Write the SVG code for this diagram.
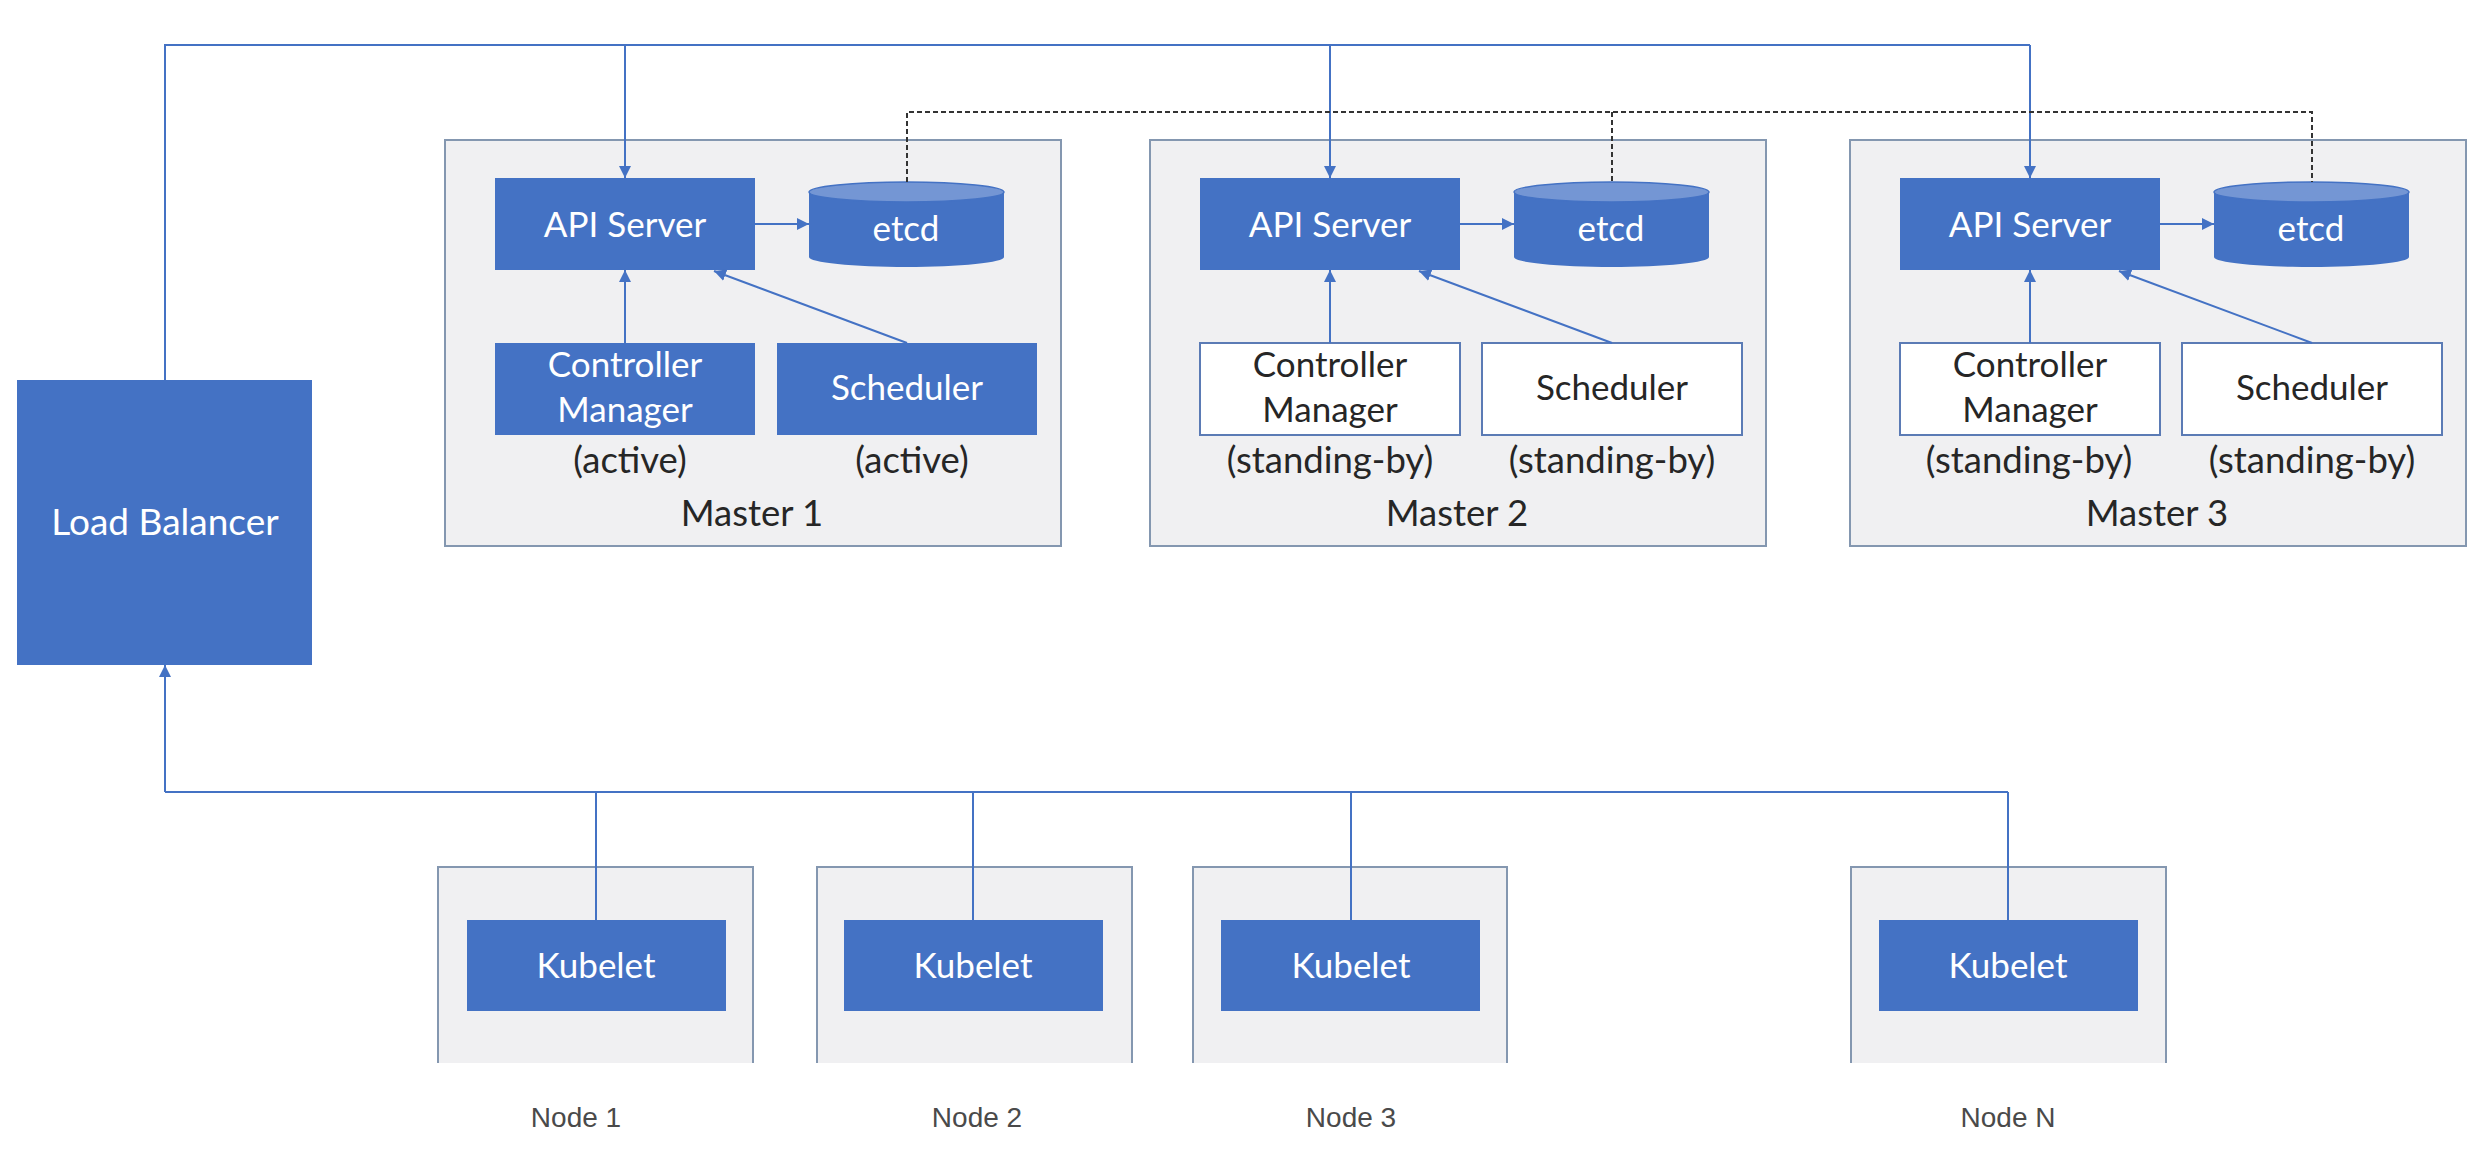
<svg xmlns="http://www.w3.org/2000/svg" width="2484" height="1164" viewBox="0 0 2484 1164">
<defs>
<marker id="arr" viewBox="0 0 10 10" refX="10" refY="5" markerWidth="6" markerHeight="6" markerUnits="strokeWidth" orient="auto">
<path d="M0,0 L10,5 L0,10 z" fill="#4472C4"/>
</marker>
<style>
.blue{fill:#4472C4;}
.master{fill:#F0F0F2;stroke:#8497B0;stroke-width:2;}
.wbox{fill:#FFFFFF;stroke:#5B7BB5;stroke-width:2;}
.conn{fill:none;stroke:#4472C4;stroke-width:2;}
.dash{fill:none;stroke:#333333;stroke-width:2;stroke-dasharray:5 3;}
.wt{font-family:Lato,"Open Sans",sans-serif;font-size:35px;fill:#FFFFFF;text-anchor:middle;}
.dt{font-family:Lato,"Open Sans",sans-serif;font-size:35px;fill:#262626;text-anchor:middle;}
.lt{font-family:Lato,"Open Sans",sans-serif;font-size:36.5px;fill:#262626;text-anchor:middle;}
.nt{font-family:"Liberation Sans",Arial,sans-serif;font-size:28px;fill:#4a4a4a;text-anchor:middle;}
.nodebox{fill:#F0F0F2;}
.nodeedge{fill:none;stroke:#8497B0;stroke-width:2;}
</style>
</defs>
<rect width="2484" height="1164" fill="#FFFFFF"/>

<g id="load-balancer">
<rect class="blue" x="17" y="380" width="295" height="285"/>
<text class="wt" x="165" y="535" style="font-size:37px">Load Balancer</text>
</g>

<g id="master1">
<rect class="master" x="445" y="140" width="616" height="406"/>
<g id="m1-api"><rect class="blue" x="495" y="178" width="260" height="92"/><text class="wt" x="625" y="237">API Server</text></g>
<g id="m1-etcd"><path class="blue" d="M809,192 L809,257 A97.5,10 0 0 0 1004,257 L1004,192 z"/><ellipse cx="906.5" cy="192" rx="97.5" ry="10" fill="#7496D4" stroke="#4472C4" stroke-width="1.5"/><text class="wt" x="906" y="241">etcd</text></g>
<g id="m1-cm"><rect class="blue" x="495" y="343" width="260" height="92"/><text class="wt" x="625" y="377">Controller</text><text class="wt" x="625" y="422">Manager</text></g>
<g id="m1-sched"><rect class="blue" x="777" y="343" width="260" height="92"/><text class="wt" x="907" y="400">Scheduler</text></g>
<text class="lt" x="630" y="473">(active)</text>
<text class="lt" x="912" y="473">(active)</text>
<text class="lt" x="752" y="526">Master 1</text>
</g>

<g id="master2">
<rect class="master" x="1150" y="140" width="616" height="406"/>
<g id="m2-api"><rect class="blue" x="1200" y="178" width="260" height="92"/><text class="wt" x="1330" y="237">API Server</text></g>
<g id="m2-etcd"><path class="blue" d="M1514,192 L1514,257 A97.5,10 0 0 0 1709,257 L1709,192 z"/><ellipse cx="1611.5" cy="192" rx="97.5" ry="10" fill="#7496D4" stroke="#4472C4" stroke-width="1.5"/><text class="wt" x="1611" y="241">etcd</text></g>
<g id="m2-cm"><rect class="wbox" x="1200" y="343" width="260" height="92"/><text class="dt" x="1330" y="377">Controller</text><text class="dt" x="1330" y="422">Manager</text></g>
<g id="m2-sched"><rect class="wbox" x="1482" y="343" width="260" height="92"/><text class="dt" x="1612" y="400">Scheduler</text></g>
<text class="lt" x="1330" y="473">(standing-by)</text>
<text class="lt" x="1612" y="473">(standing-by)</text>
<text class="lt" x="1457" y="526">Master 2</text>
</g>

<g id="master3">
<rect class="master" x="1850" y="140" width="616" height="406"/>
<g id="m3-api"><rect class="blue" x="1900" y="178" width="260" height="92"/><text class="wt" x="2030" y="237">API Server</text></g>
<g id="m3-etcd"><path class="blue" d="M2214,192 L2214,257 A97.5,10 0 0 0 2409,257 L2409,192 z"/><ellipse cx="2311.5" cy="192" rx="97.5" ry="10" fill="#7496D4" stroke="#4472C4" stroke-width="1.5"/><text class="wt" x="2311" y="241">etcd</text></g>
<g id="m3-cm"><rect class="wbox" x="1900" y="343" width="260" height="92"/><text class="dt" x="2030" y="377">Controller</text><text class="dt" x="2030" y="422">Manager</text></g>
<g id="m3-sched"><rect class="wbox" x="2182" y="343" width="260" height="92"/><text class="dt" x="2312" y="400">Scheduler</text></g>
<text class="lt" x="2029" y="473">(standing-by)</text>
<text class="lt" x="2312" y="473">(standing-by)</text>
<text class="lt" x="2157" y="526">Master 3</text>
</g>

<g id="node1">
<rect class="nodebox" x="438" y="867" width="315" height="196"/>
<path class="nodeedge" d="M438,1063 L438,867 L753,867 L753,1063"/>
<rect class="blue" x="467" y="920" width="259" height="91"/>
<text class="wt" x="596" y="978">Kubelet</text>
<text class="nt" x="576" y="1127">Node 1</text>
</g>
<g id="node2">
<rect class="nodebox" x="817" y="867" width="315" height="196"/>
<path class="nodeedge" d="M817,1063 L817,867 L1132,867 L1132,1063"/>
<rect class="blue" x="844" y="920" width="259" height="91"/>
<text class="wt" x="973" y="978">Kubelet</text>
<text class="nt" x="977" y="1127">Node 2</text>
</g>
<g id="node3">
<rect class="nodebox" x="1193" y="867" width="314" height="196"/>
<path class="nodeedge" d="M1193,1063 L1193,867 L1507,867 L1507,1063"/>
<rect class="blue" x="1221" y="920" width="259" height="91"/>
<text class="wt" x="1351" y="978">Kubelet</text>
<text class="nt" x="1351" y="1127">Node 3</text>
</g>
<g id="nodeN">
<rect class="nodebox" x="1851" y="867" width="315" height="196"/>
<path class="nodeedge" d="M1851,1063 L1851,867 L2166,867 L2166,1063"/>
<rect class="blue" x="1879" y="920" width="259" height="91"/>
<text class="wt" x="2008" y="978">Kubelet</text>
<text class="nt" x="2008" y="1127">Node N</text>
</g>

<g id="connectors">
<path class="conn" d="M165,380 L165,45 L2030,45"/>
<path class="conn" d="M625,45 L625,178" marker-end="url(#arr)"/>
<path class="conn" d="M1330,45 L1330,178" marker-end="url(#arr)"/>
<path class="conn" d="M2030,45 L2030,178" marker-end="url(#arr)"/>
<path class="conn" d="M755,224 L809,224" marker-end="url(#arr)"/>
<path class="conn" d="M1460,224 L1514,224" marker-end="url(#arr)"/>
<path class="conn" d="M2160,224 L2214,224" marker-end="url(#arr)"/>
<path class="conn" d="M625,343 L625,270" marker-end="url(#arr)"/>
<path class="conn" d="M1330,343 L1330,270" marker-end="url(#arr)"/>
<path class="conn" d="M2030,343 L2030,270" marker-end="url(#arr)"/>
<path class="conn" d="M907,343 L714,271" marker-end="url(#arr)"/>
<path class="conn" d="M1612,343 L1419,271" marker-end="url(#arr)"/>
<path class="conn" d="M2312,343 L2119,271" marker-end="url(#arr)"/>
<path class="dash" d="M907,182 L907,112 L2312,112 L2312,182"/>
<path class="dash" d="M1612,112 L1612,182"/>
<path class="conn" d="M596,920 L596,792 M973,920 L973,792 M1351,920 L1351,792 M2008,920 L2008,792 M2008,792 L165,792"/>
<path class="conn" d="M165,792 L165,665" marker-end="url(#arr)"/>
</g>
</svg>
